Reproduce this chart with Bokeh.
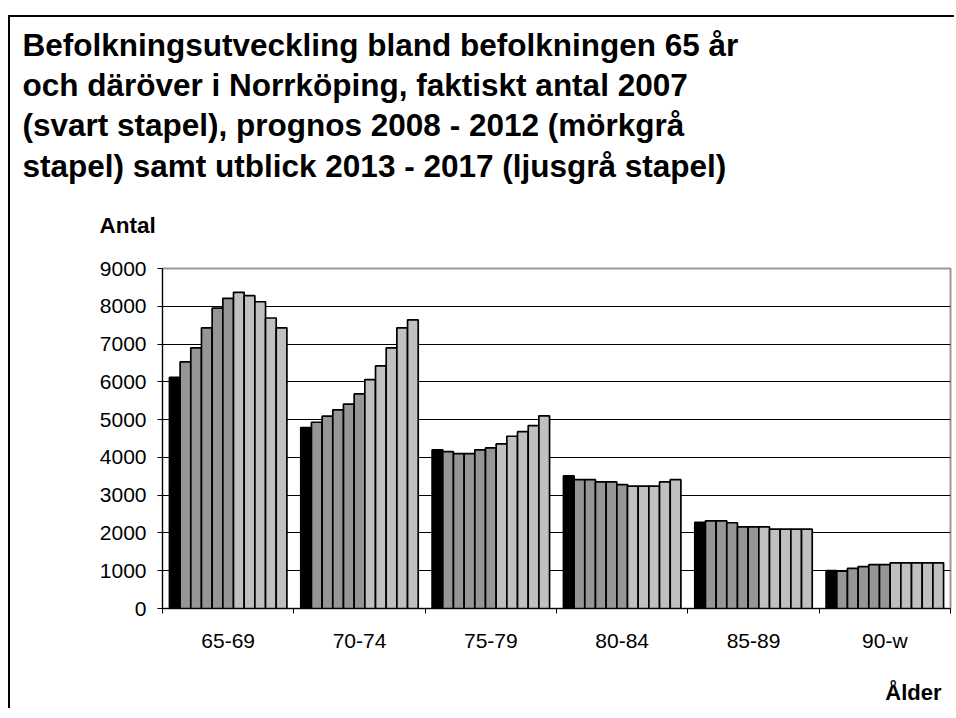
import numpy as np
from bokeh.plotting import figure
from bokeh.models import ColumnDataSource, Range1d, FixedTicker, Title
from bokeh.transform import dodge
from bokeh.embed import file_html
from bokeh.resources import INLINE

# ---------------- data ----------------
age_groups = ["65-69", "70-74", "75-79", "80-84", "85-89", "90-w"]
years = ["2007", "2008", "2009", "2010", "2011", "2012",
         "2013", "2014", "2015", "2016", "2017"]

antal_65_69 = [6120, 6530, 6900, 7430, 7950, 8210, 8370, 8280, 8120, 7690, 7430]
antal_70_74 = [4790, 4930, 5090, 5260, 5410, 5680, 6060, 6420, 6900, 7430, 7640]
antal_75_79 = [4200, 4150, 4100, 4100, 4200, 4250, 4360, 4560, 4680, 4840, 5100]
antal_80_84 = [3510, 3410, 3410, 3350, 3350, 3280, 3240, 3240, 3240, 3350, 3410]
antal_85_89 = [2280, 2320, 2320, 2270, 2160, 2160, 2160, 2100, 2100, 2100, 2100]
antal_90_w = [1000, 990, 1060, 1110, 1160, 1160, 1210, 1210, 1210, 1210, 1210]

y_ticks = [0, 1000, 2000, 3000, 4000, 5000, 6000, 7000, 8000, 9000]

title_lines = [
    "Befolkningsutveckling bland befolkningen 65 år",
    "och däröver i Norrköping, faktiskt antal 2007",
    "(svart stapel), prognos 2008 - 2012 (mörkgrå",
    "stapel) samt utblick 2013 - 2017 (ljusgrå stapel)",
]
y_label = "Antal"
x_label = "Ålder"

# ---------------- styles ----------------
FONT = "Liberation Sans"
COL_ACTUAL = "#000000"
COL_PROGNOS = "#969696"
COL_UTBLICK = "#C0C0C0"

groups = [antal_65_69, antal_70_74, antal_75_79, antal_80_84, antal_85_89, antal_90_w]
data = {"pos": list(np.arange(len(age_groups)) + 0.5)}
for j, yr in enumerate(years):
    data["y" + yr] = [g[j] for g in groups]
source = ColumnDataSource(data)

p = figure(width=946, height=693,
           x_range=Range1d(0, len(age_groups)), y_range=Range1d(0, 9000),
           output_backend="svg", toolbar_location=None, title=None,
           min_border_left=152, min_border_right=6,
           min_border_top=251, min_border_bottom=102)
p.margin = (15, 0, 0, 8)
p.styles = {"border-left": "2px solid #000000", "border-top": "2px solid #000000"}

bar_w = 0.0813
n = len(years)
for j, yr in enumerate(years):
    if j == 0:
        c = COL_ACTUAL
    elif j <= 5:
        c = COL_PROGNOS
    else:
        c = COL_UTBLICK
    p.vbar(x=dodge("pos", (j - (n - 1) / 2) * bar_w, range=p.x_range),
           top="y" + yr, width=bar_w, bottom=0, source=source,
           fill_color=c, line_color="#000000", line_width=1.7)

# grid / outline
p.xgrid.visible = False
p.ygrid.ticker = FixedTicker(ticks=y_ticks)
p.ygrid.grid_line_color = "#000000"
p.ygrid.grid_line_width = 1
p.outline_line_color = "#999999"
p.outline_line_width = 2
p.background_fill_color = "#FFFFFF"
p.border_fill_color = "#FFFFFF"

# y axis
yax = p.yaxis[0]
yax.ticker = FixedTicker(ticks=y_ticks)
yax.major_tick_out = 5
yax.major_tick_in = 0
yax.minor_tick_out = 0
yax.minor_tick_in = 0
yax.axis_line_color = "#000000"
yax.major_tick_line_color = "#000000"
yax.major_label_text_font = FONT
yax.major_label_text_font_size = "21px"
yax.major_label_text_color = "#000000"
yax.major_label_standoff = 11

# x axis: labels at group centres, tick marks at group boundaries
xax = p.xaxis[0]
xax.ticker = FixedTicker(ticks=list(np.arange(len(age_groups)) + 0.5),
                         minor_ticks=list(range(len(age_groups) + 1)))
xax.major_label_overrides = {float(i + 0.5): g for i, g in enumerate(age_groups)}
xax.major_tick_out = 0
xax.major_tick_in = 0
xax.minor_tick_out = 5
xax.minor_tick_in = 0
xax.minor_tick_line_color = "#000000"
xax.axis_line_color = "#000000"
xax.major_label_text_font = FONT
xax.major_label_text_font_size = "21px"
xax.major_label_text_color = "#000000"
xax.major_label_standoff = 15

# x-axis name, right aligned in the bottom panel (a thin spacer pushes it down)
p.add_layout(Title(text=" ", text_font_size="1px", standoff=20), "below")
p.add_layout(Title(text=x_label, align="right", offset=9, standoff=0,
                   text_font=FONT, text_font_style="bold",
                   text_font_size="22px", text_color="#000000"), "below")

# texts as titles in the top panel (first added = nearest the frame)
p.add_layout(Title(text=y_label, align="left", offset=-63, standoff=58,
                   vertical_align="top",
                   text_font=FONT, text_font_style="bold",
                   text_font_size="22.5px", text_color="#000000"), "above")
standoffs = [0, 4.8, 0, 3.2]          # line 4, 3, 2, 1
for line, so in zip(reversed(title_lines), standoffs):
    p.add_layout(Title(text=line, align="left", offset=-140, standoff=so,
                       text_font=FONT, text_font_style="bold",
                       text_font_size="31.5px", text_color="#000000"), "above")

open("out.html", "w").write(file_html(p, INLINE))
